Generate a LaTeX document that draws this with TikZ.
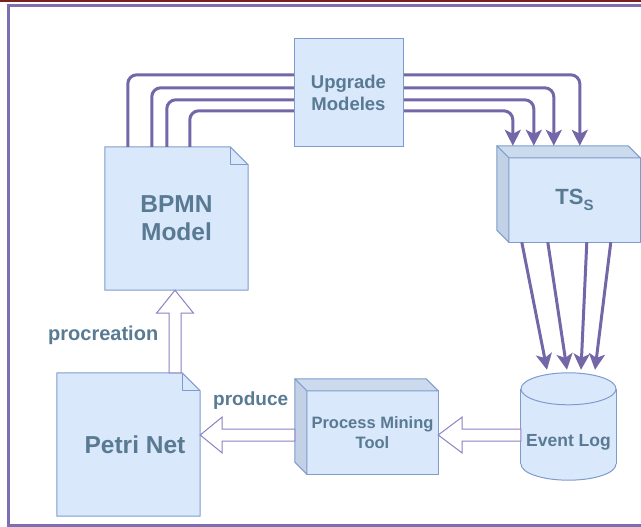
\documentclass[tikz,border=0pt]{standalone}
\usepackage{fontspec}
\setmainfont{Liberation Sans}
\usetikzlibrary{calc,arrows.meta,backgrounds}
\definecolor{boxfill}{HTML}{DAE8FC}
\definecolor{boxline}{HTML}{7E9CCB}
\definecolor{topface}{HTML}{CCDAEE}
\definecolor{sideface}{HTML}{C3D1E6}
\definecolor{txt}{HTML}{587A92}
\definecolor{flowcol}{HTML}{7367A8}
\definecolor{hollowline}{HTML}{8F80C4}
\definecolor{framecol}{HTML}{7C70B2}
\definecolor{redline}{HTML}{7A2020}
\begin{document}
\begin{tikzpicture}[x=1pt,y=-1pt,
  shapebox/.style={draw=boxline, fill=boxfill, line width=1pt},
  face/.style={draw=boxline, line width=1pt, line join=round},
  lbl/.style={text=txt, align=center, inner sep=0pt},
  flowarrow/.style={draw=flowcol, line width=3pt, rounded corners=9pt, -{Stealth[length=16pt,width=16pt,inset=4pt]}},
  downarrow/.style={draw=flowcol, line width=3pt, -{Stealth[length=16pt,width=16pt,inset=4pt]}},
  hollow/.style={draw=hollowline, fill=white, line width=1pt, line join=miter},
]
\useasboundingbox (0,0) rectangle (641,527);
\draw[redline, line width=2.5pt] (0,1) -- (641,1);
\draw[framecol, line width=3pt] (641,5.5) -- (8.5,5.5) -- (8.5,525) -- (641,525);

% nodes
\node[lbl, minimum width=143, minimum height=143, font=\bfseries\fontsize{24.5}{28}\selectfont] (bpmn) at (176.5,218.5) {BPMN\\Model};
\node[minimum width=143, minimum height=143, inner sep=0pt] (petri) at (128.5,444.5) {};
\node[lbl, font=\bfseries\fontsize{24.5}{28}\selectfont] (petritext) at (135,445) {Petri Net};
\node[lbl, minimum width=131, minimum height=84, font=\bfseries\fontsize{22}{24}\selectfont] (ts) at (574.5,200) {TS\raisebox{-6pt}{\fontsize{15}{15}\selectfont S}};
\node[lbl, minimum width=131, minimum height=83, font=\bfseries\fontsize{16.5}{20}\selectfont] (pmt) at (372.5,432.5) {Process Mining\\Tool};
\node[minimum width=95, minimum height=107, inner sep=0pt] (evlog) at (568.5,426.5) {};
\node[lbl, font=\bfseries\fontsize{17.5}{20}\selectfont] (evlogtext) at (568.5,442) {Event Log};

\begin{scope}[on background layer]
  % BPMN note
  \filldraw[face, fill=boxfill] (bpmn.north west) -- ($(bpmn.north east)+(-18,0)$) -- ($(bpmn.north east)+(0,18)$) -- (bpmn.south east) -- (bpmn.south west) -- cycle;
  \draw[face] ($(bpmn.north east)+(-18,0)$) -- ($(bpmn.north east)+(-18,18)$) -- ($(bpmn.north east)+(0,18)$);
  % Petri note
  \filldraw[face, fill=boxfill] (petri.north west) -- ($(petri.north east)+(-18,0)$) -- ($(petri.north east)+(0,18)$) -- (petri.south east) -- (petri.south west) -- cycle;
  \draw[face] ($(petri.north east)+(-18,0)$) -- ($(petri.north east)+(-18,18)$) -- ($(petri.north east)+(0,18)$);
  % TS cube
  \filldraw[face, fill=boxfill] (ts.north west) rectangle (ts.south east);
  \filldraw[face, fill=topface] (ts.north west) -- ++(-12,-12) -- ($(ts.north east)+(-12,-12)$) -- (ts.north east) -- cycle;
  \filldraw[face, fill=sideface] (ts.north west) -- ++(-12,-12) -- ($(ts.south west)+(-12,-12)$) -- (ts.south west) -- cycle;
  % PMT cube
  \filldraw[face, fill=boxfill] (pmt.north west) rectangle (pmt.south east);
  \filldraw[face, fill=topface] (pmt.north west) -- ++(-12,-12) -- ($(pmt.north east)+(-12,-12)$) -- (pmt.north east) -- cycle;
  \filldraw[face, fill=sideface] (pmt.north west) -- ++(-12,-12) -- ($(pmt.south west)+(-12,-12)$) -- (pmt.south west) -- cycle;
  % Event log cylinder
  \filldraw[face, fill=boxfill] ($(evlog.south)+(0,-16)$) ellipse [x radius=47.5pt, y radius=16pt];
  \fill[boxfill] ($(evlog.north west)+(0,16)$) rectangle ($(evlog.south east)+(0,-16)$);
  \draw[face] ($(evlog.north west)+(0,16)$) -- ($(evlog.south west)+(0,-16)$);
  \draw[face] ($(evlog.north east)+(0,16)$) -- ($(evlog.south east)+(0,-16)$);
  \filldraw[face, fill=boxfill] ($(evlog.north)+(0,16)$) ellipse [x radius=47.5pt, y radius=16pt];
\end{scope}

% top flows BPMN -> TS
\draw[flowarrow] ($(bpmn.north west)+(23,0)$) -- ++(0,-72) -| ($(ts.north west)+(71,-12)$);
\draw[flowarrow] ($(bpmn.north west)+(47,0)$) -- ++(0,-59) -| ($(ts.north west)+(45,-12)$);
\draw[flowarrow] ($(bpmn.north west)+(62,0)$) -- ++(0,-47) -| ($(ts.north west)+(25,-12)$);
\draw[flowarrow] ($(bpmn.north west)+(85,0)$) -- ++(0,-36) -| ($(ts.north west)+(4,-12)$);

\node[shapebox, lbl, minimum width=109, minimum height=108, font=\bfseries\fontsize{18.5}{22}\selectfont] (upg) at (348.5,93) {Upgrade\\Modeles};

% TS -> Event log
\draw[downarrow] ($(ts.south west)+(13,0)$) -- ($(evlog.north)+(-21.5,-3)$);
\draw[downarrow] ($(ts.south west)+(39,0)$) -- ($(evlog.north)+(-1.5,-3)$);
\draw[downarrow] ($(ts.south west)+(78,0)$) -- ($(evlog.north)+(12.5,-3)$);
\draw[downarrow] ($(ts.south west)+(102,0)$) -- ($(evlog.north)+(26.5,-3)$);

% hollow arrows
\draw[hollow] let \p1=(evlog.west), \p2=(pmt.east), \p3=([yshift=-2.5pt]pmt.east) in
  (\x1,\y3+6pt) -- (\x2+24pt,\y3+6pt) -- (\x2+24pt,\y3+18pt) -- (\x2,\y3) -- (\x2+24pt,\y3-18pt) -- (\x2+24pt,\y3-6pt) -- (\x1,\y3-6pt) -- cycle;
\draw[hollow] let \p1=([xshift=-12pt]pmt.west), \p2=(petri.east), \p3=([yshift=-2.5pt]pmt.east) in
  (\x1,\y3+6pt) -- (\x2+22pt,\y3+6pt) -- (\x2+22pt,\y3+18pt) -- (\x2,\y3) -- (\x2+22pt,\y3-18pt) -- (\x2+22pt,\y3-6pt) -- (\x1,\y3-6pt) -- cycle;
\draw[hollow] let \p1=(petri.north), \p2=([xshift=-1.5pt]bpmn.south) in
  (\x2-6pt,\y1) -- (\x2-6pt,\y2-23pt) -- (\x2-18.5pt,\y2-23pt) -- (\x2,\y2) -- (\x2+18.5pt,\y2-23pt) -- (\x2+6pt,\y2-23pt) -- (\x2+6pt,\y1) -- cycle;

% labels
\node[lbl, anchor=base west, font=\bfseries\fontsize{20}{22}\selectfont] (proclbl) at (48,340) {procreation};
\node[lbl, anchor=base west, font=\bfseries\fontsize{19}{22}\selectfont] (prodlbl) at (213,405) {produce};
\end{tikzpicture}
\end{document}
